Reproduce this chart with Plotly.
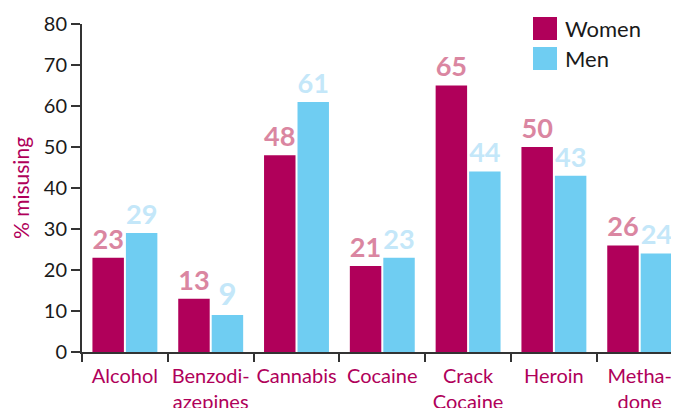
import plotly.graph_objects as go

categories = ["Alcohol", "Benzodi-<br>azepines", "Cannabis", "Cocaine", "Crack<br>Cocaine", "Heroin", "Metha-<br>done"]
women = [23, 13, 48, 21, 65, 50, 26]
men = [29, 9, 61, 23, 44, 43, 24]
y_ticks = [0, 10, 20, 30, 40, 50, 60, 70, 80]
series_names = ["Women", "Men"]

WOMEN_C = "#B0005A"
MEN_C = "#6FCDF2"
FONT = "Lato, 'Open Sans', sans-serif"

OFF = 8  # page body margin in the browser
W, H = 679, 408
# target plot box in screen pixels
SX0, SX1, SY0, SY1 = 82, 679, 24, 352
L = SX0 - OFF
T = SY0 - OFF
R = W - (SX1 - OFF)
B = H - (SY1 - OFF)
pw, ph = W - L - R, H - T - B

def px_x(sx):
    return (sx - SX0) / pw

def px_y(sy):
    return (SY1 - sy) / ph

fig = go.Figure()
fig.add_trace(go.Bar(
    x=categories, y=women, name=series_names[0], marker_color=WOMEN_C, marker_line_width=0,
    text=[str(v) for v in women], textposition="outside",
    textfont=dict(family=FONT, size=31, color="#DA86A1", weight="bold"),
    cliponaxis=False, showlegend=False,
))
fig.add_trace(go.Bar(
    x=categories, y=men, name=series_names[1], marker_color=MEN_C, marker_line_width=0,
    text=[str(v) for v in men], textposition="outside",
    textfont=dict(family=FONT, size=31, color="#C4E7F9", weight="bold"),
    cliponaxis=False, showlegend=False,
))

# legend: large swatches + labels
shapes = []
annotations = []
for i, (nm, col) in enumerate(zip(series_names, [WOMEN_C, MEN_C])):
    top = 17 + i * 30
    shapes.append(dict(type="rect", xref="paper", yref="paper",
                       x0=px_x(533), x1=px_x(557), y0=px_y(top + 23), y1=px_y(top),
                       fillcolor=col, line=dict(width=0)))
    annotations.append(dict(text=nm, xref="paper", yref="paper",
                            x=px_x(563), y=px_y(top + 11.5), xanchor="left", yanchor="middle",
                            showarrow=False, font=dict(size=22, color="#1a1a1a")))

fig.update_layout(
    width=W, height=H,
    margin=dict(l=L, r=R, t=T, b=B, autoexpand=False),
    paper_bgcolor="white", plot_bgcolor="white",
    barmode="group", bargap=0.22, bargroupgap=0.06,
    font=dict(family=FONT, size=20, color="#1a1a1a"),
    showlegend=False,
    shapes=shapes, annotations=annotations,
    xaxis=dict(
        range=[-0.5, 6.458], showline=True, linecolor="#333", linewidth=2,
        ticks="outside", tickson="boundaries", ticklen=8, tickcolor="#333", tickwidth=1.5,
        tickfont=dict(size=20, color=WOMEN_C), tickangle=0, ticklabelstandoff=5,
        showgrid=False, automargin=False,
    ),
    yaxis=dict(
        range=[0, 80], tickvals=y_ticks, showline=True, linecolor="#333", linewidth=2,
        ticks="outside", ticklen=9, tickcolor="#333", tickwidth=1.5, showgrid=False, zeroline=False,
        tickfont=dict(size=20, color="#1a1a1a"), automargin=False,
        title=dict(text="% misusing", font=dict(size=21, color=WOMEN_C), standoff=10),
    ),
)

fig.write_html("out.html")
